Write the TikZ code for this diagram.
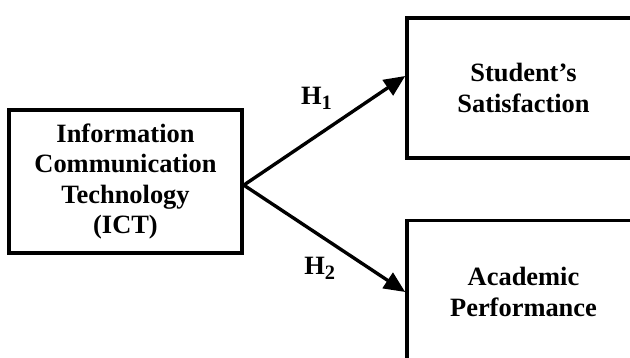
\documentclass[tikz,border=0pt]{standalone}
\usepackage{fontspec}
\setmainfont{Liberation Serif}
\usetikzlibrary{positioning, arrows.meta}

\newcommand{\hsub}[1]{\raisebox{-0.18em}{\fontsize{14.5}{14.5}\selectfont #1}}

\tikzstyle{construct} = [rectangle, minimum width=5.825cm, line width=2.5pt, draw=black, fill=white, align=center, font=\bfseries\fontsize{18.8}{21.6}\selectfont]
\tikzstyle{arrow} = [line width=2.4pt, -{Stealth[length=15pt, width=13pt, inset=0pt]}]
\tikzstyle{hyp} = [font=\bfseries\fontsize{18.8}{21.6}\selectfont, inner sep=1pt]

\begin{document}
\begin{tikzpicture}[x=0.025cm, y=-0.025cm]
    \useasboundingbox (0,0) rectangle (630,357);
    \clip (0,0) rectangle (630,357);

        % Nodes
        \node (ict) [construct, minimum height=3.575cm] at (125.5,181.5) {Information\\Communication\\Technology\\(ICT)};
        \node (sat) [construct, minimum height=3.5cm] at (523.5,88) {Student’s\\Satisfaction};
        \node (perf) [construct, minimum height=3.575cm] at (523.5,292) {Academic\\Performance};

        % Arrows
        \draw [arrow] ([yshift=-0.09cm]ict.east) -- ([yshift=0.3cm]sat.west) node[hyp, midway, above=0.45cm, xshift=-0.2cm] {H\hsub{1}};
        \draw [arrow] ([yshift=-0.09cm]ict.east) -- (perf.west) node[hyp, midway, below=0.4cm, xshift=-0.12cm] {H\hsub{2}};

\end{tikzpicture}
\end{document}
